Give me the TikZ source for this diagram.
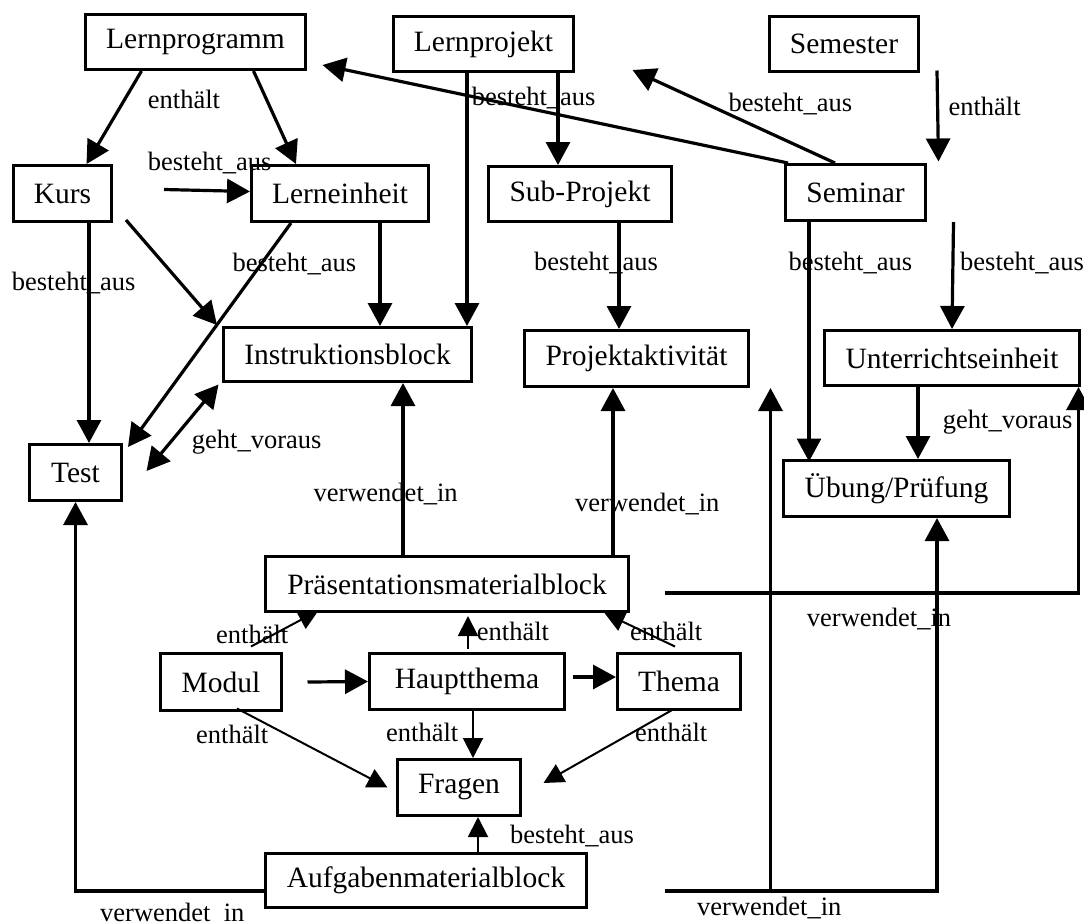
\documentclass[tikz,border=0pt]{standalone}
\usepackage{fontspec}
\setmainfont{Liberation Serif}
\usetikzlibrary{arrows.meta}

\begin{document}
\begin{tikzpicture}[x=1pt,y=-1pt,>={Triangle[length=23pt,width=24pt]},
	box/.style={draw,line width=3pt,inner sep=0pt,font=\fontsize{29.5}{34}\selectfont},
	lbl/.style={anchor=north west,inner sep=0pt,font=\fontsize{26.5}{30}\selectfont},
	con/.style={->,line width=3.2pt},
	fine/.style={-{Triangle[length=20pt,width=20pt]},line width=2pt}]
	\useasboundingbox (0,0) rectangle (1084,922);
	% Kaesten
	\node[box,minimum width=220pt,minimum height=55pt] (lprog) at (195.5,42) {Lernprogramm};
	\node[box,minimum width=180pt,minimum height=55pt] (lproj) at (483.5,44) {Lernprojekt};
	\node[box,minimum width=149pt,minimum height=55pt] (semester) at (844,44) {Semester};
	\node[box,minimum width=98pt,minimum height=56pt] (kurs) at (62.5,193.5) {Kurs};
	\node[box,minimum width=177pt,minimum height=56pt] (lein) at (340,193.5) {Lerneinheit};
	\node[box,minimum width=183pt,minimum height=55pt] (subproj) at (580,194) {Sub-Projekt};
	\node[box,minimum width=140pt,minimum height=56pt] (seminar) at (855.5,192.5) {Seminar};
	\node[box,minimum width=248pt,minimum height=54pt] (iblock) at (347.5,354.5) {Instruktionsblock};
	\node[box,minimum width=224pt,minimum height=56pt] (pakt) at (636.5,358.5) {Projektaktivität};
	\node[box,minimum width=255pt,minimum height=55pt] (uein) at (952,358) {Unterrichtseinheit};
	\node[box,minimum width=92pt,minimum height=56pt] (test) at (75.5,472.5) {Test};
	\node[box,minimum width=226pt,minimum height=56pt] (uebung) at (896.5,488.5) {Übung/Prüfung};
	\node[box,minimum width=363pt,minimum height=55pt] (pmblock) at (447,584) {Präsentationsmaterialblock};
	\node[box,minimum width=121pt,minimum height=57pt] (modul) at (221,682) {Modul};
	\node[box,minimum width=195pt,minimum height=56pt] (hthema) at (467,681.5) {Hauptthema};
	\node[box,minimum width=123pt,minimum height=56pt] (thema) at (679,681.5) {Thema};
	\node[box,minimum width=123pt,minimum height=56pt] (fragen) at (459,787.5) {Fragen};
	\node[box,minimum width=321pt,minimum height=54pt] (amblock) at (426,880.5) {Aufgabenmaterialblock};
	% Verbindungen oben
	\draw[con] ([xshift=-54pt]lprog.south) -- ([xshift=24pt]kurs.north);
	\draw[con] ([xshift=58pt]lprog.south) -- ([xshift=-44pt]lein.north);
	\draw[con] ([xshift=51pt,yshift=4pt]kurs.east) -- ([yshift=2pt]lein.west);
	\draw[con] ([xshift=13pt,yshift=3pt]kurs.south east) -- ([xshift=-5pt,yshift=1pt]iblock.north west);
	\draw[con] ([xshift=26.5pt]kurs.south) -- ([xshift=13.5pt]test.north);
	\draw[con] ([xshift=-49pt]lein.south) -- ([xshift=5pt,yshift=-4pt]test.north east);
	\draw[con] ([xshift=40pt]lein.south) -- ([xshift=32.5pt]iblock.north);
	\draw[con] ([xshift=-16.5pt]lproj.south) -- ([xshift=119.5pt]iblock.north);
	\draw[con] ([xshift=74.5pt]lproj.south) -- ([xshift=-22pt]subproj.north);
	\draw[con] ([xshift=39pt]subproj.south) -- ([xshift=-17.5pt]pakt.north);
	\draw[con] ([xshift=4pt]seminar.north west) -- ([xshift=15.5pt,yshift=-23pt]lprog.east);
	\draw[con] ([xshift=-20.5pt]seminar.north) -- ([xshift=57.5pt,yshift=-26pt]lproj.east);
	\draw[con] ([xshift=93pt,yshift=2.5pt]semester.south) -- ([xshift=11.5pt,yshift=1.5pt]seminar.north east);
	\draw[con] ([xshift=-46.5pt]seminar.south) -- ([xshift=-87.5pt,yshift=-2.5pt]uebung.north);
	\draw[con] ([xshift=26.5pt]seminar.south east) -- (uein.north);
	\draw[con] ([xshift=-34pt]uein.south) -- ([xshift=21.5pt]uebung.north);
	\draw[<->,line width=3.2pt] ([xshift=23.5pt,yshift=1.5pt]test.east) -- ([xshift=-3.5pt,yshift=-1.5pt]iblock.south west);
	% verwendet_in
	\draw[con] ([xshift=-44pt]pmblock.north) -- ([xshift=55.5pt]iblock.south);
	\draw[con] ([xshift=166pt]pmblock.north) -- ([xshift=-23.5pt]pakt.south);
	\draw[con] ([xshift=34.5pt,yshift=-9pt]pmblock.east) -| ([xshift=-2.5pt]uein.south east);
	\coordinate (amr) at ([xshift=76.5pt,yshift=-10.5pt]amblock.east);
	\coordinate (pk) at ([xshift=20.5pt]pakt.south east);
	\draw[con] (amr) -| ([xshift=40.5pt]uebung.south);
	\draw[con] (pk |- amr) -- (pk);
	\draw[con] ([yshift=-10.5pt]amblock.west) -| (test.south);
	\draw[fine] ([xshift=52pt]amblock.north) -- ([xshift=19pt]fragen.south);
	% Modul, Hauptthema, Thema
	\draw[fine] ([xshift=30pt,yshift=5.5pt]modul.north) -- ([xshift=54.5pt,yshift=2.5pt]pmblock.south west);
	\draw[con] ([xshift=24.5pt]modul.east) -- (hthema.west);
	\draw[fine] ([xshift=16pt,yshift=3.5pt]modul.south) -- ([xshift=-8.5pt]fragen.west);
	\draw[fine] ([xshift=1pt,yshift=3.5pt]hthema.north) -- ([xshift=21pt,yshift=-3pt]pmblock.south);
	\draw[con] ([xshift=6.5pt,yshift=4.5pt]hthema.east) -- ([yshift=4.5pt]thema.west);
	\draw[fine] ([xshift=6pt]hthema.south) -- ([xshift=14pt]fragen.north);
	\draw[fine] ([xshift=-4pt,yshift=5.5pt]thema.north) -- ([xshift=-25.5pt]pmblock.south east);
	\draw[fine] ([xshift=-6pt,yshift=1.5pt]thema.south) -- ([xshift=21.5pt,yshift=4.5pt]fragen.east);
	% Beschriftungen
	\node[lbl] (t1) at (147.7,90) {enthält};
	\node[lbl] (t2) at (147.7,151.7) {besteht\_aus};
	\node[lbl] (t3) at (11.7,271.7) {besteht\_aus};
	\node[lbl] (t4) at (232.3,253.3) {besteht\_aus};
	\node[lbl] (t5) at (471.7,87.3) {besteht\_aus};
	\node[lbl] (t6) at (534,251.7) {besteht\_aus};
	\node[lbl] (t7) at (728.3,93.3) {besteht\_aus};
	\node[lbl] (t8) at (948.3,96.7) {enthält};
	\node[lbl] (t9) at (788.3,251.7) {besteht\_aus};
	\node[lbl] (t10) at (960,251.7) {besteht\_aus};
	\node[lbl] (t11) at (942.7,410) {geht\_voraus};
	\node[lbl] (t12) at (191.7,430) {geht\_voraus};
	\node[lbl] (t13) at (313.3,483.3) {verwendet\_in};
	\node[lbl] (t14) at (575,493.3) {verwendet\_in};
	\node[lbl] (t15) at (806.7,608.3) {verwendet\_in};
	\node[lbl] (t16) at (697,896.7) {verwendet\_in};
	\node[lbl] (t17) at (100,903.3) {verwendet\_in};
	\node[lbl] (t18) at (216,625) {enthält};
	\node[lbl] (t19) at (196,725) {enthält};
	\node[lbl] (t20) at (476.7,621.7) {enthält};
	\node[lbl] (t21) at (386,723.3) {enthält};
	\node[lbl] (t22) at (630,621.7) {enthält};
	\node[lbl] (t23) at (635,723.3) {enthält};
	\node[lbl] (t24) at (510,825) {besteht\_aus};
\end{tikzpicture}
\end{document}
